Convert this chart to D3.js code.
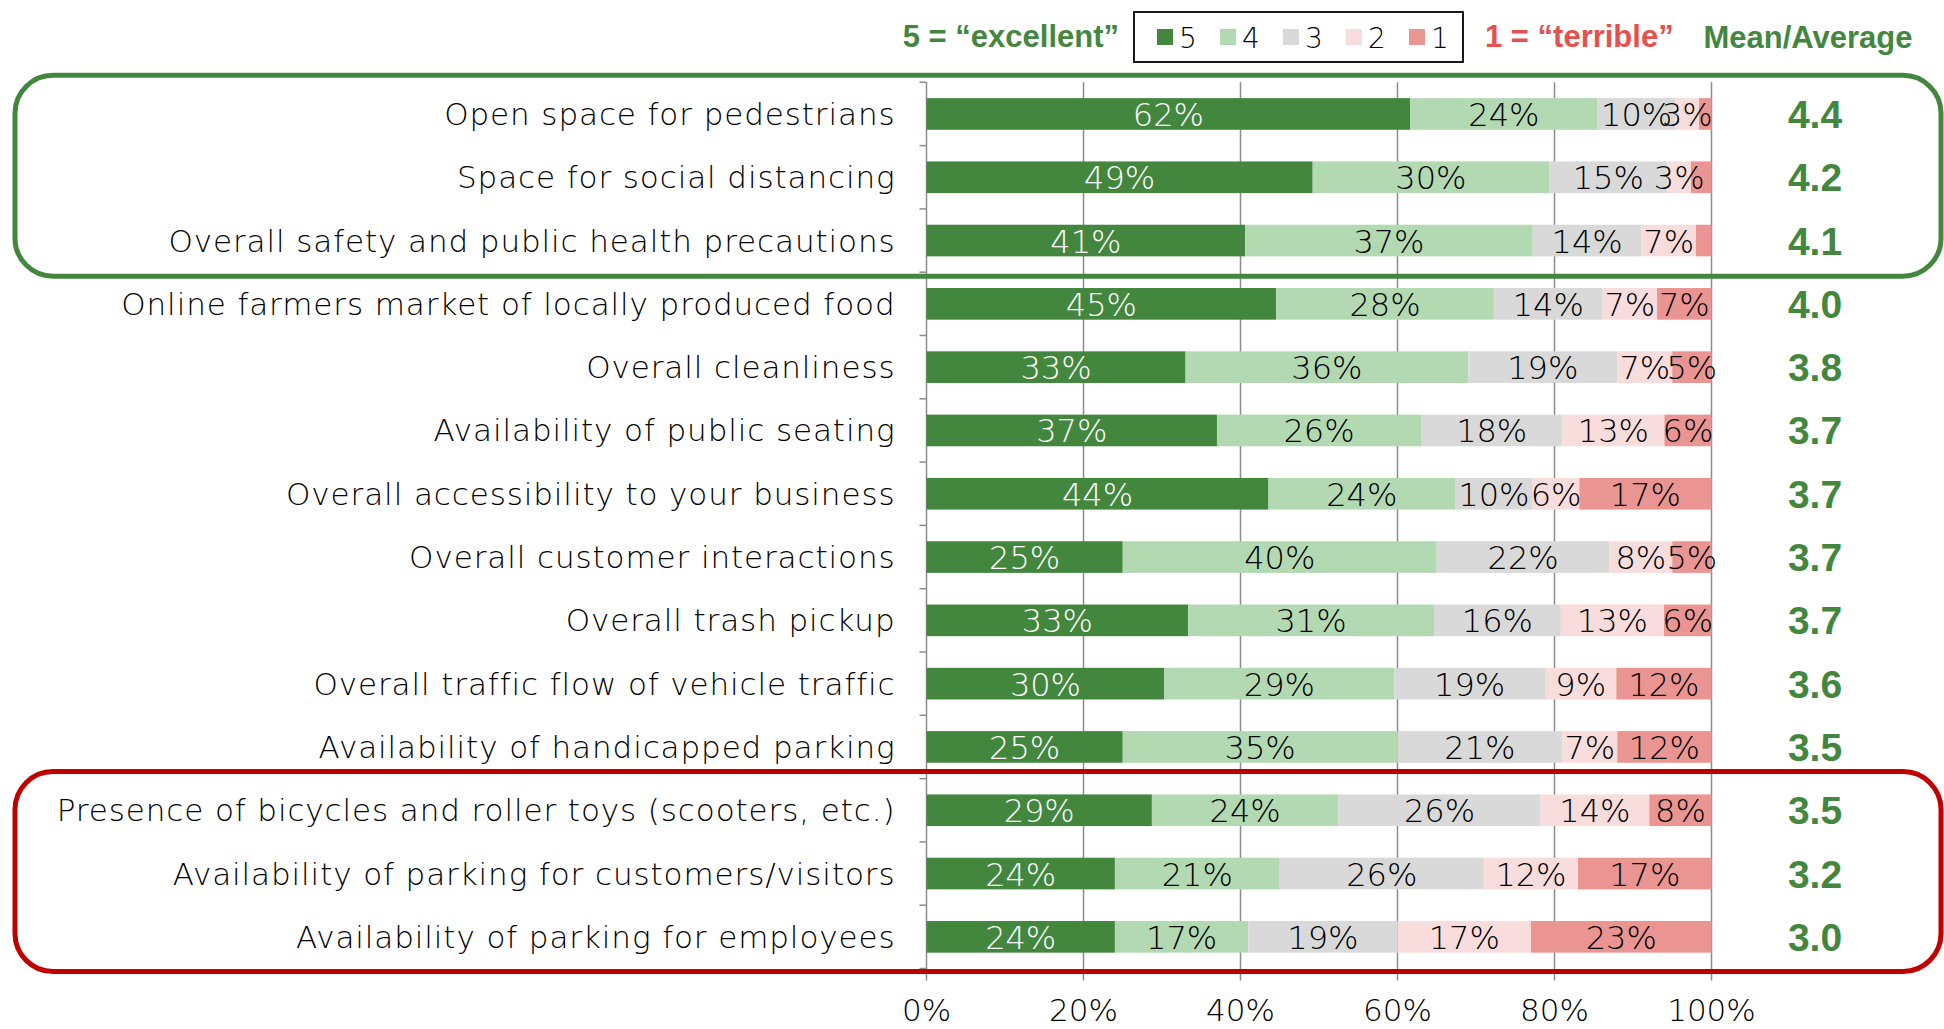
<!DOCTYPE html>
<html>
<head>
<meta charset="utf-8">
<script src="https://cdn.jsdelivr.net/npm/d3@7"></script>
<style>
  html, body { margin: 0; padding: 0; background: #fff; }
  svg { display: block; }
  .lbl { font-family: "DejaVu Sans", sans-serif; font-weight: 300; }
  .bold { font-family: "Liberation Sans", Arial, sans-serif; font-weight: bold; }
</style>
</head>
<body>
<svg id="chart"></svg>
<script>
// Categories, top to bottom
const categories = [
    'Open space for pedestrians',
    'Space for social distancing',
    'Overall safety and public health precautions',
    'Online farmers market of locally produced food',
    'Overall cleanliness',
    'Availability of public seating',
    'Overall accessibility to your business',
    'Overall customer interactions',
    'Overall trash pickup',
    'Overall traffic flow of vehicle traffic',
    'Availability of handicapped parking',
    'Presence of bicycles and roller toys (scooters, etc.)',
    'Availability of parking for customers/visitors',
    'Availability of parking for employees'
];

// Share of ratings per category (percent)
const rating5 = [62, 49, 41, 45, 33, 37, 44, 25, 33, 30, 25, 29, 24, 24];
const rating4 = [24, 30, 37, 28, 36, 26, 24, 40, 31, 29, 35, 24, 21, 17];
const rating3 = [10, 15, 14, 14, 19, 18, 10, 22, 16, 19, 21, 26, 26, 19];
const rating2 = [3, 3, 7, 7, 7, 13, 6, 8, 13, 9, 7, 14, 12, 17];
const rating1 = [1.6, 2.6, 2, 7, 5, 6, 17, 5, 6, 12, 12, 8, 17, 23];

const means = [4.4, 4.2, 4.1, 4.0, 3.8, 3.7, 3.7, 3.7, 3.7, 3.6, 3.5, 3.5, 3.2, 3.0];

const xTicks = [0, 0.2, 0.4, 0.6, 0.8, 1];
const legendKeys = ['5', '4', '3', '2', '1'];
const colors = ['#43873f', '#b3d9b2', '#d9d9d9', '#f9dcdc', '#ea9592'];
const labelColors = ['#ffffff', '#000000', '#000000', '#000000', '#000000'];

const W = 1944, H = 1029;
const green = '#43873f';
const red = '#e5514f';

const svg = d3.select('#chart').attr('width', W).attr('height', H);

// Build table for the stack
const series = [rating5, rating4, rating3, rating2, rating1];
const table = categories.map((c, i) => {
    const row = { category: c };
    legendKeys.forEach((k, j) => { row[k] = series[j][i]; });
    return row;
});

const stacked = d3.stack()
    .keys(legendKeys)
    .offset(d3.stackOffsetExpand)(table);

// Scales
const x = d3.scaleLinear().domain([0, 1]).range([926.5, 1711.5]);
const y = d3.scaleBand()
    .domain(categories)
    .range([82.3, 968.5])
    .paddingInner(0.5)
    .paddingOuter(0.25);

const yTop = y.range()[0], yBottom = y.range()[1];

// Gridlines (run a bit below the plot like outside tick marks)
svg.append('g')
    .selectAll('line')
    .data(xTicks)
    .join('line')
    .attr('x1', d => x(d)).attr('x2', d => x(d))
    .attr('y1', yTop).attr('y2', yBottom + 12)
    .attr('stroke', '#8c8c8c')
    .attr('stroke-width', 1.5);

// Category axis with outward ticks at band boundaries
const bounds = categories.map(c => y(c) - y.step() * y.paddingInner() / 2);
bounds.push(yBottom);
svg.append('g')
    .selectAll('line')
    .data(bounds)
    .join('line')
    .attr('x1', x(0) - 7).attr('x2', x(0))
    .attr('y1', d => d).attr('y2', d => d)
    .attr('stroke', '#8c8c8c')
    .attr('stroke-width', 1.5);

// Bars
const layers = svg.append('g')
    .selectAll('g')
    .data(stacked)
    .join('g')
    .attr('fill', (d, i) => colors[i]);

layers.selectAll('rect')
    .data(d => d)
    .join('rect')
    .attr('x', d => x(d[0]))
    .attr('y', d => y(d.data.category))
    .attr('width', d => x(d[1]) - x(d[0]))
    .attr('height', y.bandwidth());

// Value labels (the tiny "1" slivers at the top are left unlabelled)
svg.append('g')
    .selectAll('g')
    .data(stacked)
    .join('g')
    .attr('fill', (d, i) => labelColors[i])
    .selectAll('text')
    .data(d => d.map(s => ({ s, key: d.key })))
    .join('text')
    .filter(d => d.s.data[d.key] >= 3)
    .attr('class', 'lbl')
    .attr('x', d => (x(d.s[0]) + x(d.s[1])) / 2)
    .attr('y', d => y(d.s.data.category) + y.bandwidth() / 2 + 12)
    .attr('text-anchor', 'middle')
    .style('font-size', '32px')
    .text(d => Math.round(d.s.data[d.key]) + '%');

// Category labels
svg.append('g')
    .selectAll('text')
    .data(categories)
    .join('text')
    .attr('class', 'lbl')
    .attr('x', x(0) - 31)
    .attr('y', d => y(d) + y.bandwidth() / 2 + 11)
    .attr('text-anchor', 'end')
    .style('font-size', '31px')
    .style('letter-spacing', '0.9px')
    .attr('fill', '#000')
    .text(d => d);

// X axis labels
svg.append('g')
    .selectAll('text')
    .data(xTicks)
    .join('text')
    .attr('class', 'lbl')
    .attr('x', d => x(d))
    .attr('y', 1021)
    .attr('text-anchor', 'middle')
    .style('font-size', '31px')
    .text(d => d3.format('.0%')(d));

// Mean column
svg.append('g')
    .selectAll('text')
    .data(means)
    .join('text')
    .attr('class', 'bold')
    .attr('x', 1815)
    .attr('y', (d, i) => y(categories[i]) + y.bandwidth() / 2 + 14)
    .attr('text-anchor', 'middle')
    .style('font-size', '39px')
    .attr('fill', green)
    .text(d => d.toFixed(1));

// Header: scale ends, legend, mean title
svg.append('text')
    .attr('class', 'bold')
    .attr('x', 1119).attr('y', 47)
    .attr('text-anchor', 'end')
    .style('font-size', '31px')
    .attr('fill', green)
    .text('5 = \u201Cexcellent\u201D');

svg.append('text')
    .attr('class', 'bold')
    .attr('x', 1485).attr('y', 47)
    .style('font-size', '31px')
    .attr('fill', red)
    .text('1 = \u201Cterrible\u201D');

svg.append('text')
    .attr('class', 'bold')
    .attr('x', 1808).attr('y', 48)
    .attr('text-anchor', 'middle')
    .style('font-size', '31px')
    .attr('fill', green)
    .text('Mean/Average');

const legend = svg.append('g').attr('transform', 'translate(1134,12)');
legend.append('rect')
    .attr('width', 329).attr('height', 50)
    .attr('fill', 'none')
    .attr('stroke', '#000')
    .attr('stroke-width', 1.8);

const items = legend.selectAll('g.item')
    .data(legendKeys)
    .join('g')
    .attr('class', 'item')
    .attr('transform', (d, i) => `translate(${23 + i * 63},0)`);

items.append('rect')
    .attr('y', 17).attr('width', 16).attr('height', 16)
    .attr('fill', (d, i) => colors[i]);

items.append('text')
    .attr('class', 'lbl')
    .attr('x', 22).attr('y', 36)
    .style('font-size', '28px')
    .text(d => d);

// Highlight boxes around the top three and bottom three items
const boxPad = 7;
const firstBand = c => y(c) - y.step() * y.paddingInner() / 2;
svg.append('rect')
    .attr('x', 15)
    .attr('y', firstBand(categories[0]) - boxPad)
    .attr('width', 1926)
    .attr('height', firstBand(categories[3]) - firstBand(categories[0]) + boxPad + 4)
    .attr('rx', 38)
    .attr('fill', 'none')
    .attr('stroke', green)
    .attr('stroke-width', 5);

svg.append('rect')
    .attr('x', 15)
    .attr('y', firstBand(categories[11]) - boxPad)
    .attr('width', 1926)
    .attr('height', yBottom - firstBand(categories[11]) + boxPad + 3)
    .attr('rx', 38)
    .attr('fill', 'none')
    .attr('stroke', '#c00000')
    .attr('stroke-width', 5);
</script>
</body>
</html>
